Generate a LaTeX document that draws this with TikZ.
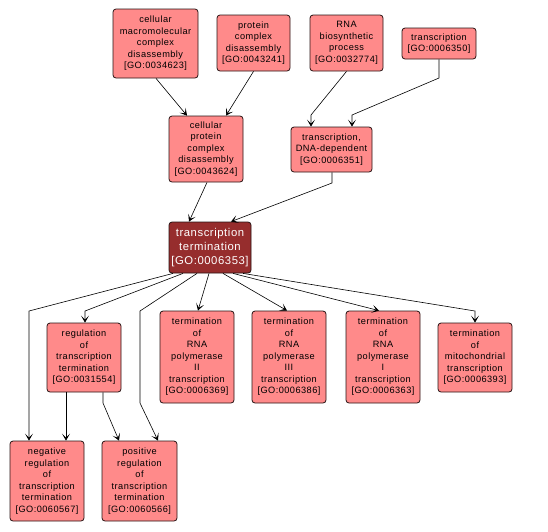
\documentclass[tikz,border=0pt]{standalone}
\usepackage{fontspec}
\setmainfont{Liberation Sans}
\newfontfamily\spacedfont[LetterSpace=5]{Liberation Sans}
\usetikzlibrary{arrows.meta}
\definecolor{nodefill}{RGB}{255,138,138}
\definecolor{darkfill}{RGB}{150,45,45}
\definecolor{edgecol}{RGB}{40,20,20}
\tikzset{
  gobox/.style={draw=edgecol, line width=0.8pt, rounded corners=3pt, fill=nodefill,
    align=center, inner sep=0pt, font=\spacedfont\fontsize{9.2}{11.5}\selectfont, text=black},
  mainbox/.style={gobox, fill=darkfill, text=white, font=\spacedfont\fontsize{11.3}{14}\selectfont},
  arr/.style={draw=black, line width=0.6pt, -{Stealth[length=7pt,width=8pt,inset=4pt]}}
}
\begin{document}
\begin{tikzpicture}[x=1pt,y=-1pt]
\useasboundingbox (0,0) rectangle (548,531);
\node[gobox, minimum width=85pt, minimum height=69pt] (cmcd) at (155.5,43.5) {cellular\\macromolecular\\complex\\disassembly\\{[}GO:0034623{]}};
\node[gobox, minimum width=73pt, minimum height=56pt] (pcd) at (253.5,43) {protein\\complex\\disassembly\\{[}GO:0043241{]}};
\node[gobox, minimum width=73pt, minimum height=56pt] (rna) at (346.5,43) {RNA\\biosynthetic\\process\\{[}GO:0032774{]}};
\node[gobox, minimum width=74pt, minimum height=31pt] (tr) at (439,43.5) {transcription\\{[}GO:0006350{]}};
\node[gobox, minimum width=74pt, minimum height=66pt] (cpcd) at (206,149) {cellular\\protein\\complex\\disassembly\\{[}GO:0043624{]}};
\node[gobox, minimum width=81pt, minimum height=45pt] (tdna) at (331.5,149.5) {transcription,\\DNA-dependent\\{[}GO:0006351{]}};
\node[mainbox, minimum width=82pt, minimum height=51pt] (tt) at (210,247.5) {transcription\\termination\\{[}GO:0006353{]}};
\node[gobox, minimum width=74pt, minimum height=69pt] (reg) at (84,357.5) {regulation\\of\\transcription\\termination\\{[}GO:0031554{]}};
\node[gobox, minimum width=74pt, minimum height=92pt] (r2) at (197,357) {termination\\of\\RNA\\polymerase\\II\\transcription\\{[}GO:0006369{]}};
\node[gobox, minimum width=74pt, minimum height=92pt] (r3) at (289,357) {termination\\of\\RNA\\polymerase\\III\\transcription\\{[}GO:0006386{]}};
\node[gobox, minimum width=74pt, minimum height=92pt] (r1) at (383,357) {termination\\of\\RNA\\polymerase\\I\\transcription\\{[}GO:0006363{]}};
\node[gobox, minimum width=74pt, minimum height=69pt] (mito) at (475,357.5) {termination\\of\\mitochondrial\\transcription\\{[}GO:0006393{]}};
\node[gobox, minimum width=74pt, minimum height=80pt] (neg) at (47,481) {negative\\regulation\\of\\transcription\\termination\\{[}GO:0060567{]}};
\node[gobox, minimum width=75pt, minimum height=80pt] (pos) at (139.5,481) {positive\\regulation\\of\\transcription\\termination\\{[}GO:0060566{]}};
% edges
\draw[arr] ([xshift=0.5pt]cmcd.south) -- ([xshift=-19pt]cpcd.north);
\draw[arr] (pcd.south) -- ([xshift=20pt]cpcd.north);
\draw[arr] (rna.south) -- (311,115) -- ([xshift=-20.5pt]tdna.north);
\draw[arr] (tr.south) -- (439,78) -- (352,115) -- ([xshift=20.5pt]tdna.north);
\draw[arr] ([xshift=1pt]cpcd.south) -- ([xshift=-21pt]tt.north);
\draw[arr] ([xshift=0.5pt]tdna.south) -- (332,183) -- ([xshift=21pt]tt.north);
\draw[arr] ([xshift=-37pt]tt.south) -- (29,311) -- ([xshift=-18pt]neg.north);
\draw[arr] ([xshift=-27pt]tt.south) -- (85,311) -- ([xshift=1pt]reg.north);
\draw[arr] ([xshift=-13pt]tt.south) -- (140,311) -- (140,403) -- ([xshift=18.5pt]pos.north);
\draw[arr] ([xshift=-1pt]tt.south) -- ([xshift=1pt]r2.north);
\draw[arr] ([xshift=13pt]tt.south) -- ([xshift=-2pt]r3.north);
\draw[arr] ([xshift=23pt]tt.south) -- ([xshift=-4pt]r1.north);
\draw[arr] ([xshift=33pt]tt.south) -- (475,311) -- (mito.north);
\draw[arr] ([xshift=-18pt]reg.south) -- ([xshift=19pt]neg.north);
\draw[arr] ([xshift=19pt]reg.south) -- (103,403) -- ([xshift=-20.5pt]pos.north);
\end{tikzpicture}
\end{document}
